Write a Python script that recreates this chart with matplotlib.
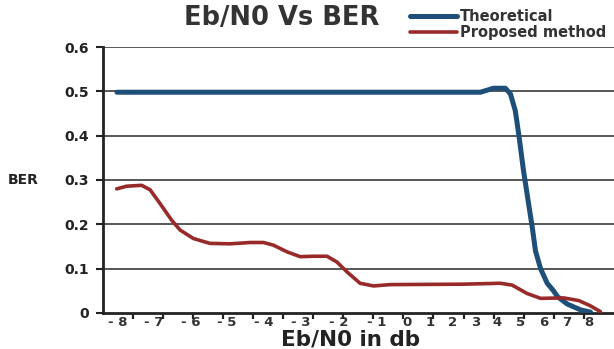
import matplotlib.pyplot as plt
import numpy as np

my_dpi = 100

# x in category units (one unit per tick), y = BER
theo_x = [0.48, 12.56, 12.99, 13.39, 13.56, 13.72, 13.84, 13.99, 14.16, 14.29, 14.39,
          14.56, 14.78, 14.99, 15.12, 15.45, 15.89, 16.22]
theo_y = [0.498, 0.498, 0.507, 0.507, 0.494, 0.456, 0.40, 0.322, 0.247, 0.19, 0.14,
          0.10, 0.067, 0.05, 0.037, 0.02, 0.007, 0.002]

prop_x = [0.47, 0.80, 1.30, 1.58, 1.91, 2.30, 2.58, 3.02, 3.57, 4.24, 4.91, 5.35, 5.68,
          6.13, 6.57, 7.01, 7.46, 7.79, 8.12, 8.56, 9.01, 9.56, 11.99, 13.22, 13.61,
          14.11, 14.56, 15.33, 15.83, 16.22, 16.55]
prop_y = [0.28, 0.286, 0.288, 0.278, 0.247, 0.209, 0.187, 0.168, 0.157, 0.156, 0.159,
          0.159, 0.153, 0.138, 0.127, 0.128, 0.128, 0.115, 0.093, 0.067, 0.061, 0.064,
          0.065, 0.067, 0.063, 0.044, 0.033, 0.034, 0.028, 0.016, 0.003]

xlabels = ['- 8', '- 7', '- 6', '- 5', '- 4', '- 3', '- 2', '- 1',
           '0', '1', '2', '3', '4', '5', '6', '7', '8']
xlabel_pos = [0.51, 1.69, 2.93, 4.14, 5.37, 6.6, 7.86, 9.1,
              10.13, 10.88, 11.63, 12.39, 13.12, 13.9, 14.67, 15.43, 16.18]
yticks = [0, 0.1, 0.2, 0.3, 0.4, 0.5, 0.6]
ylabels = ['0', '0.1', '0.2', '0.3', '0.4', '0.5', '0.6']

fig = plt.figure(figsize=(614/my_dpi, 349/my_dpi), dpi=my_dpi)
ax = fig.add_axes([0.167, 0.1032, 0.833, 0.7621])

for y in yticks[1:]:
    ax.axhline(y, color='#4a4a4a', lw=1.3, zorder=1)

ax.plot(theo_x, theo_y, color='#1d4f78', lw=3.6, solid_capstyle='round',
        solid_joinstyle='round', label='Theoretical', zorder=3)
ax.plot(prop_x, prop_y, color='#982a2a', lw=2.6, solid_capstyle='round',
        solid_joinstyle='round', label='Proposed method', zorder=4)

ax.set_xlim(0, 17)
ax.set_ylim(0, 0.6)
for s in ['top', 'right']:
    ax.spines[s].set_visible(False)
ax.spines['left'].set_linewidth(2)
ax.spines['bottom'].set_linewidth(2)
ax.spines['left'].set_color('#222222')
ax.spines['bottom'].set_color('#222222')

ax.set_yticks(yticks)
ax.set_yticklabels(ylabels, fontsize=10, fontweight='bold', color='#333333')
ax.tick_params(axis='y', direction='out', length=5, width=1.5, pad=5, colors='#222222')

ax.set_xticks(xlabel_pos)
ax.set_xticklabels(xlabels, fontsize=9.5, fontweight='bold', color='#333333')
ax.tick_params(axis='x', which='major', length=0, pad=2.5)
ax.set_xticks(np.arange(1, 17), minor=True)
ax.tick_params(axis='x', which='minor', direction='out', length=4, width=1.6, color='#222222')

ax.set_xlabel('Eb/N0 in db', fontsize=15.5, fontweight='bold', color='#222222')
ax.xaxis.set_label_coords(0.484, -0.062)
ax.set_ylabel('BER', fontsize=10, fontweight='bold', color='#222222', rotation=0,
              ha='center', va='center')
ax.yaxis.set_label_coords(-0.156, 0.5)

fig.text(282/614, 1 - 18/349, 'Eb/N0 Vs BER', fontsize=18.5, fontweight='bold',
         color='#333333', ha='center', va='center')

fig.legend(loc='upper left', bbox_to_anchor=(410/614, 1 - 9/349), frameon=False,
           prop={'size': 10.5, 'weight': 'bold'}, handlelength=3.2, handletextpad=0.2,
           labelspacing=0.05, borderpad=0, borderaxespad=0, labelcolor='#333333')

plt.savefig('out.png', dpi=my_dpi)
